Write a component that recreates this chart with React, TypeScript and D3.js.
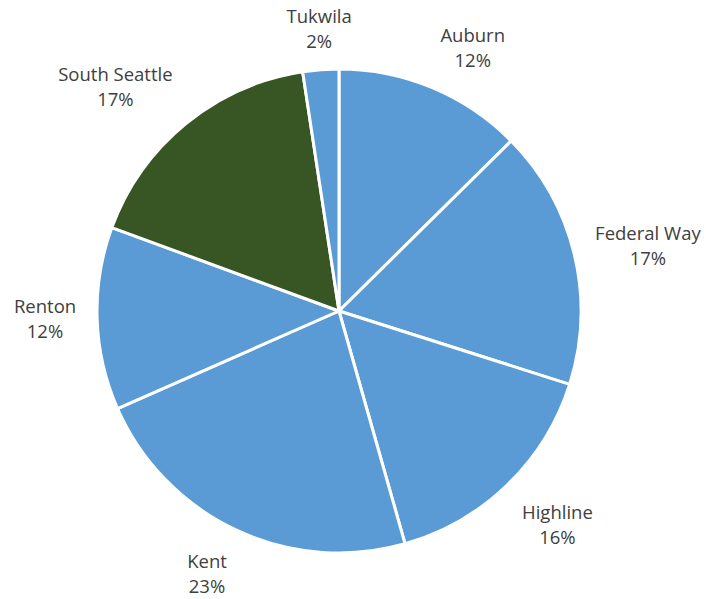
import React, { useEffect, useRef } from "react";
import * as d3 from "d3";

const categories = ["Auburn", "Federal Way", "Highline", "Kent", "Renton", "South Seattle", "Tukwila"];
const values = [12.6, 17.3, 15.7, 22.8, 12.2, 17.0, 2.4];
const percentLabels = ["12%", "17%", "16%", "23%", "12%", "17%", "2%"];
const colors = ["#5B9BD5", "#5B9BD5", "#5B9BD5", "#5B9BD5", "#5B9BD5", "#375623", "#5B9BD5"];

const W = 706;
const H = 599;

export default function App() {
  const ref = useRef<SVGSVGElement>(null);
  useEffect(() => {
    const svg = d3.select(ref.current);
    svg.selectAll("*").remove();
    const cx = 339, cy = 311, r = 242;
    const data = categories.map((c, i) => ({ c, v: values[i], p: percentLabels[i], col: colors[i] }));
    const pie = d3.pie<any>().value((d) => d.v).sort(null);
    const arcs = pie(data);
    const arc = d3.arc<any>().innerRadius(0).outerRadius(r);
    const g = svg.append("g").attr("transform", `translate(${cx},${cy})`);
    g.selectAll("path").data(arcs).enter().append("path")
      .attr("d", arc as any)
      .attr("fill", (d) => d.data.col)
      .attr("stroke", "#fff")
      .attr("stroke-width", 3)
      .attr("stroke-linejoin", "round");

    const anchorR = r + 21;
    const lh = 25;
    const f = (v: number, lo: number) => {
      const a = Math.abs(v);
      const t = Math.max(0, Math.min(1, (a - lo) / 0.2));
      return Math.sign(v) * t;
    };
    arcs.forEach((a) => {
      const th = (a.startAngle + a.endAngle) / 2;
      const t = g.append("text")
        .attr("font-family", "'Open Sans', sans-serif")
        .attr("font-size", 18.5)
        .attr("fill", "#404040")
        .attr("text-anchor", "middle");
      t.append("tspan").attr("x", 0).attr("dy", 0).text(a.data.c);
      t.append("tspan").attr("x", 0).attr("dy", lh).text(a.data.p);
      const bb = (t.node() as SVGTextElement).getBBox();
      const w = bb.width;
      const s = Math.sin(th), c = Math.cos(th);
      const ax = anchorR * s, ay = -anchorR * c;
      const h = c > 0 ? 40 : 50;
      const bx = ax + (w / 2) * f(s, 0.18);
      const by = ay - (h / 2) * f(c, 0.2);
      t.attr("transform", `translate(${bx},${by - 6})`);
    });
  }, []);
  return <svg ref={ref} width={W} height={H} style={{ position: "absolute", left: 0, top: 0, background: "#fff" }} />;
}
